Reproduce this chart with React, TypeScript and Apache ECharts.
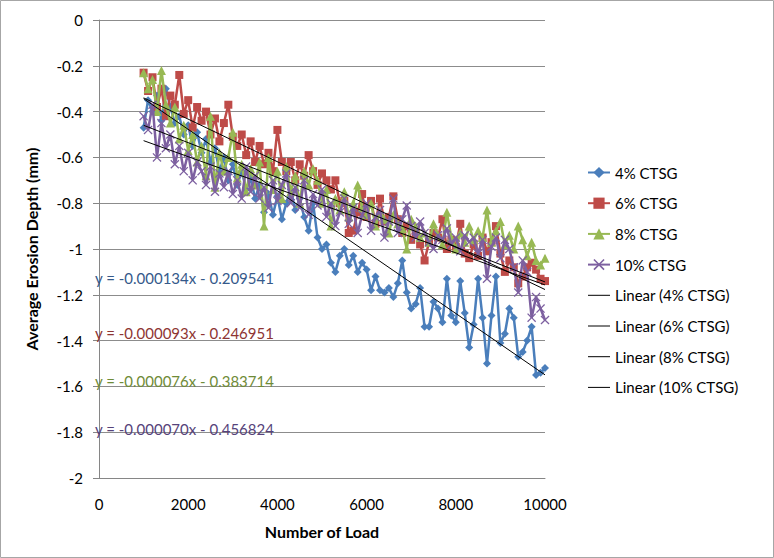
import React, { useEffect, useRef } from "react";
import * as echarts from "echarts";

const loads = [
  1000, 1100, 1200, 1300, 1400, 1500, 1600, 1700, 1800, 1900,
  2000, 2100, 2200, 2300, 2400, 2500, 2600, 2700, 2800, 2900,
  3000, 3100, 3200, 3300, 3400, 3500, 3600, 3700, 3800, 3900,
  4000, 4100, 4200, 4300, 4400, 4500, 4600, 4700, 4800, 4900,
  5000, 5100, 5200, 5300, 5400, 5500, 5600, 5700, 5800, 5900,
  6000, 6100, 6200, 6300, 6400, 6500, 6600, 6700, 6800, 6900,
  7000, 7100, 7200, 7300, 7400, 7500, 7600, 7700, 7800, 7900,
  8000, 8100, 8200, 8300, 8400, 8500, 8600, 8700, 8800, 8900,
  9000, 9100, 9200, 9300, 9400, 9500, 9600, 9700, 9800, 9900,
  10000,
];

const ctsg4 = [
  -0.47, -0.35, -0.40, -0.33, -0.44, -0.30, -0.38, -0.45, -0.42, -0.50,
  -0.46, -0.55, -0.49, -0.58, -0.52, -0.62, -0.56, -0.66, -0.60, -0.70,
  -0.63, -0.72, -0.66, -0.74, -0.69, -0.78, -0.72, -0.84, -0.76, -0.85,
  -0.77, -0.87, -0.80, -0.74, -0.83, -0.78, -0.86, -0.92, -0.80, -0.95,
  -1.00, -0.98, -1.06, -1.10, -1.03, -1.00, -1.07, -1.03, -1.10, -1.06,
  -1.09, -1.18, -1.12, -1.18, -1.19, -1.17, -1.21, -1.15, -1.05, -1.19,
  -1.26, -1.24, -1.17, -1.34, -1.34, -1.23, -1.26, -1.32, -1.13, -1.29,
  -1.32, -1.14, -1.28, -1.43, -1.33, -1.13, -1.30, -1.50, -1.29, -1.12,
  -1.41, -1.37, -1.26, -1.30, -1.47, -1.45, -1.40, -1.34, -1.55, -1.54,
  -1.52,
];

const ctsg6 = [
  -0.23, -0.31, -0.25, -0.38, -0.30, -0.42, -0.33, -0.37, -0.24, -0.41,
  -0.35, -0.47, -0.38, -0.44, -0.40, -0.50, -0.43, -0.53, -0.45, -0.37,
  -0.51, -0.55, -0.50, -0.59, -0.53, -0.62, -0.55, -0.63, -0.58, -0.66,
  -0.48, -0.62, -0.66, -0.62, -0.70, -0.63, -0.68, -0.59, -0.66, -0.72,
  -0.67, -0.70, -0.74, -0.70, -0.80, -0.79, -0.93, -0.92, -0.84, -0.76,
  -0.86, -0.79, -0.89, -0.78, -0.88, -0.86, -0.77, -0.87, -0.93, -0.90,
  -0.96, -0.92, -0.98, -1.05, -0.97, -0.93, -0.95, -0.87, -1.00, -0.96,
  -0.99, -0.89, -1.02, -1.04, -0.98, -1.03, -0.95, -1.01, -0.97, -0.90,
  -1.02, -1.10, -1.05, -1.08, -1.15, -1.12, -1.08, -1.06, -1.09, -1.13,
  -1.14,
];

const ctsg8 = [
  -0.23, -0.30, -0.26, -0.40, -0.22, -0.37, -0.45, -0.38, -0.52, -0.46,
  -0.57, -0.50, -0.62, -0.55, -0.68, -0.42, -0.73, -0.58, -0.66, -0.60,
  -0.49, -0.69, -0.63, -0.75, -0.65, -0.72, -0.62, -0.90, -0.60, -0.74,
  -0.66, -0.78, -0.64, -0.75, -0.68, -0.80, -0.66, -0.72, -0.65, -0.70,
  -0.80, -0.74, -0.90, -0.78, -0.83, -0.75, -0.86, -0.80, -0.72, -0.82,
  -0.85, -0.80, -0.90, -0.84, -0.87, -0.93, -0.85, -0.89, -0.91, -1.00,
  -0.87, -0.90, -0.95, -0.93, -0.97, -0.89, -0.94, -0.98, -0.84, -0.95,
  -1.00, -0.93, -0.97, -0.90, -0.96, -0.92, -0.95, -0.83, -0.97, -0.92,
  -0.88, -0.98, -0.94, -1.00, -0.90, -0.96, -1.03, -0.97, -1.05, -1.07,
  -1.04,
];

const ctsg10 = [
  -0.42, -0.48, -0.37, -0.60, -0.45, -0.56, -0.50, -0.63, -0.55, -0.66,
  -0.58, -0.70, -0.62, -0.66, -0.72, -0.64, -0.75, -0.67, -0.73, -0.66,
  -0.76, -0.70, -0.78, -0.64, -0.75, -0.68, -0.78, -0.73, -0.82, -0.70,
  -0.79, -0.72, -0.67, -0.80, -0.73, -0.82, -0.70, -0.85, -0.76, -0.81,
  -0.74, -0.86, -0.80, -0.90, -0.84, -0.78, -0.89, -0.82, -0.93, -0.85,
  -0.80, -0.92, -0.86, -0.83, -0.95, -0.88, -0.78, -0.93, -0.87, -0.81,
  -0.90, -0.95, -0.88, -0.93, -0.97, -1.00, -0.94, -0.96, -0.91, -0.98,
  -0.95, -1.01, -0.94, -0.97, -0.95, -1.02, -0.96, -1.13, -0.99, -0.95,
  -1.04, -0.96, -1.00, -1.08, -1.19, -1.05, -1.10, -1.30, -1.21, -1.26,
  -1.31,
];

const seriesNames = ["4% CTSG", "6% CTSG", "8% CTSG", "10% CTSG"];
const seriesColors = ["#4A7EBB", "#BE4B48", "#98B954", "#7D60A0"];
const labelColors = ["#35598A", "#8E3533", "#6F8B37", "#56437A"];
const slopes = [-0.000134, -0.000093, -0.000076, -0.00007];
const intercepts = [-0.209541, -0.246951, -0.383714, -0.456824];
const equationTexts = [
  "y = -0.000134x - 0.209541",
  "y = -0.000093x - 0.246951",
  "y = -0.000076x - 0.383714",
  "y = -0.000070x - 0.456824",
];
const xTicks = [0, 2000, 4000, 6000, 8000, 10000];

const FONT = "Lato, 'Liberation Sans', sans-serif";
const crossPath =
  "path://M0,1 L1,0 L5,4 L9,0 L10,1 L6,5 L10,9 L9,10 L5,6 L1,10 L0,9 L4,5 Z";
const symbols = ["diamond", "rect", "triangle", crossPath];
const symbolSizes = [8, 8, 9, 9];

export default function App() {
  const ref = useRef<HTMLDivElement>(null);
  useEffect(() => {
    document.body.style.margin = "0";
    if (!ref.current) return;
    const chart = echarts.init(ref.current, null, { renderer: "svg" });
    const allData = [ctsg4, ctsg6, ctsg8, ctsg10];
    const dataSeries = allData.map((vals, i) => ({
      name: seriesNames[i],
      type: "line",
      data: loads.map((x, k) => [x, vals[k]]),
      symbol: symbols[i],
      symbolSize: symbolSizes[i],
      showSymbol: true,
      lineStyle: { color: seriesColors[i], width: 2.5 },
      itemStyle: { color: seriesColors[i], borderWidth: 0 },
      z: 2 + i,
    }));
    const x0 = loads[0];
    const x1 = loads[loads.length - 1];
    const trendNames = seriesNames.map((n) => "Linear (" + n + ")");
    const trendSeries = slopes.map((m, i) => ({
      name: trendNames[i],
      type: "line",
      data: [
        [x0, m * x0 + intercepts[i]],
        [x1, m * x1 + intercepts[i]],
      ],
      symbol: "none",
      lineStyle: { color: "#000000", width: 1 },
      itemStyle: { color: "#000000" },
      z: 10,
    }));
    const labelTops = [270, 325, 373, 421];
    chart.setOption({
      animation: false,
      backgroundColor: "#ffffff",
      textStyle: { fontFamily: FONT },
      grid: { left: 99, top: 20, width: 446, height: 458 },
      legend: {
        orient: "vertical",
        left: 582,
        top: 160,
        itemWidth: 22,
        itemHeight: 14,
        itemGap: 15.7,
        textStyle: { fontSize: 15, color: "#000", fontFamily: FONT },
        data: [
          ...seriesNames.map((n) => ({ name: n })),
          ...trendNames.map((n) => ({
            name: n,
            itemStyle: { opacity: 0 },
            lineStyle: { color: "#000", width: 1 },
          })),
        ],
      },
      xAxis: {
        type: "value",
        min: 0,
        max: 10000,
        interval: 2000,
        name: "Number of Load",
        nameLocation: "middle",
        nameGap: 45,
        nameTextStyle: { fontSize: 16, fontWeight: "bold", color: "#000", fontFamily: FONT },
        axisLine: { show: true, onZero: false, lineStyle: { color: "#868686", width: 1 } },
        axisTick: { show: false },
        axisLabel: {
          fontSize: 15,
          color: "#000",
          margin: 18,
          fontFamily: FONT,
          formatter: (v: number) => (xTicks.includes(v) ? String(v) : ""),
        },
        splitLine: { show: false },
      },
      yAxis: {
        type: "value",
        min: -2,
        max: 0,
        interval: 0.2,
        name: "Average Erosion Depth (mm)",
        nameLocation: "middle",
        nameGap: 60,
        nameTextStyle: { fontSize: 16, fontWeight: "bold", color: "#000", fontFamily: FONT },
        axisLine: { show: true, onZero: false, lineStyle: { color: "#868686", width: 1 } },
        axisTick: { show: true, length: 6, lineStyle: { color: "#868686" } },
        axisLabel: {
          fontSize: 15,
          color: "#000",
          margin: 16,
          fontFamily: FONT,
          formatter: (v: number) => String(Math.round(v * 10) / 10),
        },
        splitLine: { show: true, lineStyle: { color: "#8C8C8C", width: 1 } },
      },
      graphic: [
        {
          type: "rect",
          shape: { x: 0.5, y: 0.5, width: 773, height: 557 },
          style: { fill: "none", stroke: "#A6A6A6", lineWidth: 1 },
          silent: true,
          z: -1,
        },
        ...equationTexts.map((t, i) => ({
          type: "text",
          left: 95,
          top: labelTops[i],
          style: { text: t, fill: labelColors[i], fontSize: 15, fontFamily: FONT },
          z: 100,
        })),
      ],
      series: [...dataSeries, ...trendSeries],
    });
    return () => chart.dispose();
  }, []);
  return <div ref={ref} style={{ width: 774, height: 558 }} />;
}
